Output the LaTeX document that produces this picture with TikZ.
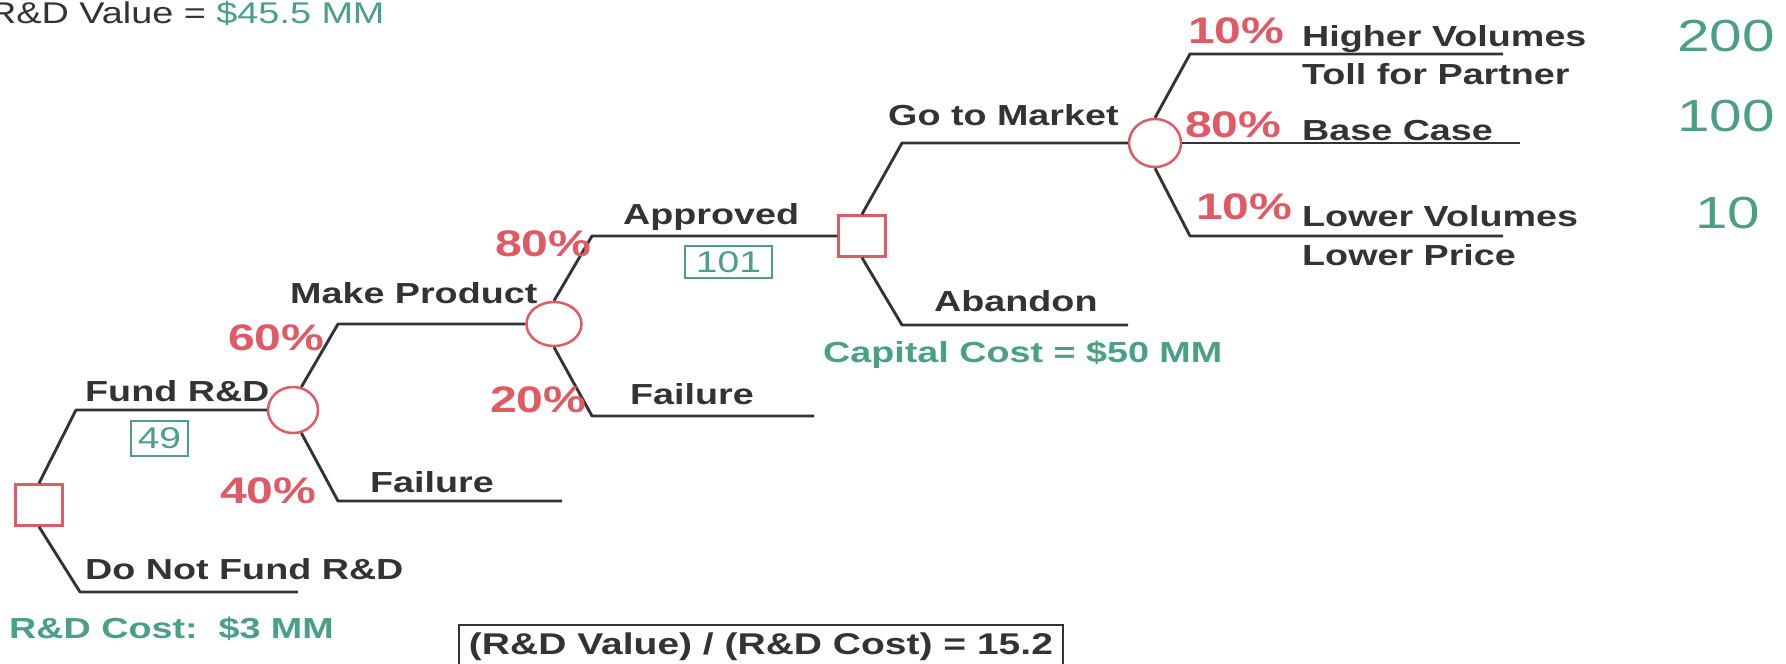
\documentclass[tikz,border=0pt]{standalone}
\usepackage{fontspec}
\setmainfont{Liberation Sans}
\usetikzlibrary{shapes.geometric}
\definecolor{ink}{HTML}{333333}
\definecolor{tred}{HTML}{E05A66}
\definecolor{tgreen}{HTML}{4AA086}
\newcommand{\hs}[1]{\scalebox{1.3}[1]{#1}}
\begin{document}
\begin{tikzpicture}[x=1pt,y=-1pt,
  lbl/.style={anchor=base west, inner sep=0pt, text=ink, font=\fontsize{29}{34}\selectfont\bfseries},
  pct/.style={anchor=base west, inner sep=0pt, text=tred, font=\fontsize{37}{42}\selectfont\bfseries},
  val/.style={anchor=base west, inner sep=0pt, text=tgreen, font=\fontsize{45}{50}\selectfont},
  note/.style={anchor=base west, inner sep=0pt, text=tgreen, font=\fontsize{29}{34}\selectfont\bfseries},
  decision/.style={draw=tred, line width=2.5pt, rectangle, minimum width=47pt, minimum height=41pt, inner sep=0pt},
  chance/.style={draw=tred, line width=2.5pt, ellipse, inner sep=0pt, minimum width=52pt, minimum height=46pt},
  branch/.style={draw=ink, line width=2.9pt, line join=round},
  valbox/.style={draw=tgreen, line width=2pt, text=tgreen, font=\fontsize{30}{34}\selectfont, inner sep=0pt}
]
\useasboundingbox (0,0) rectangle (1786,664);
\clip (0,0) rectangle (1786,664);

% header
\node[anchor=base west, inner sep=0pt, font=\fontsize{30}{34}\selectfont] (hdr) at (-11,23)
  {\scalebox{1.26}[1]{\textcolor{ink}{R\&D Value =} \textcolor{tgreen}{\$45.5 MM}}};

% decision / chance nodes
\node[decision] (d1) at (39,505) {};
\node[chance, minimum width=50pt, minimum height=46pt] (c1) at (293,410) {};
\node[chance, minimum width=55pt, minimum height=44pt] (c2) at (554,324) {};
\node[decision] (d2) at (862,236) {};
\node[chance, minimum width=52pt, minimum height=48pt] (c3) at (1155,143) {};

% corner / end coordinates
\coordinate (a1) at (76,410);
\coordinate (a2) at (80,592);  \coordinate (e2) at (298,592);
\coordinate (b1) at (338,324);
\coordinate (b2) at (338,501); \coordinate (e3) at (562,501);
\coordinate (g1) at (592,236);
\coordinate (g2) at (592,416); \coordinate (e4) at (814,416);
\coordinate (h1) at (902,143);
\coordinate (h2) at (902,325); \coordinate (e5) at (1128,325);
\coordinate (k1) at (1190,54);  \coordinate (e6) at (1503,54);
\coordinate (e7) at (1520,143);
\coordinate (k3) at (1190,236); \coordinate (e8) at (1503,236);

% branches
\draw[branch] (d1.north) -- (a1) -- (c1.west);
\draw[branch] (d1.south) -- (a2) -- (e2);
\draw[branch] (c1.70) -- (b1) -- (c2.west);
\draw[branch] (c1.290) -- (b2) -- (e3);
\draw[branch] (c2.north) -- (g1) -- (d2.west);
\draw[branch] (c2.south) -- (g2) -- (e4);
\draw[branch] (d2.north) -- (h1) -- (c3.west);
\draw[branch] (d2.south) -- (h2) -- (e5);
\draw[branch] (c3.north) -- (k1) -- (e6);
\draw[branch] (c3.east) -- (e7);
\draw[branch] (c3.south) -- (k3) -- (e8);

% labels
\node[lbl] (tfund) at (85,401) {\hs{Fund R\&D}};
\node[valbox, minimum width=57pt, minimum height=35pt] (v49) at (159.5,438.5) {\hs{49}};
\node[lbl] (tnofund) at (85,579) {\hs{Do Not Fund R\&D}};
\node[note] (tcost) at (9,638) {\hs{R\&D Cost:\ \ \$3 MM}};
\node[pct] (p60) at (228,350) {\hs{60\%}};
\node[lbl] (tmake) at (290,303) {\hs{Make Product}};
\node[pct] (p40) at (220,503) {\hs{40\%}};
\node[lbl] (tfail1) at (370,492) {\hs{Failure}};
\node[pct] (p80a) at (495,256) {\hs{80\%}};
\node[lbl] (tappr) at (623,224) {\hs{Approved}};
\node[valbox, minimum width=87pt, minimum height=32pt] (v101) at (728.5,262) {\hs{101}};
\node[pct] (p20) at (490,412) {\hs{20\%}};
\node[lbl] (tfail2) at (630,404) {\hs{Failure}};
\node[lbl] (tgo) at (888,125) {\hs{Go to Market}};
\node[lbl] (taband) at (934,311) {\hs{Abandon}};
\node[note] (tcap) at (823,362) {\hs{Capital Cost = \$50 MM}};
\node[pct] (p10a) at (1188,43) {\hs{10\%}};
\node[lbl] (thigh) at (1302,46) {\hs{Higher Volumes}};
\node[lbl] (ttoll) at (1302,84) {\hs{Toll for Partner}};
\node[pct] (p80b) at (1185,137) {\hs{80\%}};
\node[lbl] (tbase) at (1302,140) {\hs{Base Case}};
\node[pct] (p10b) at (1196,219) {\hs{10\%}};
\node[lbl] (tlow) at (1302,226) {\hs{Lower Volumes}};
\node[lbl] (tprice) at (1302,265) {\hs{Lower Price}};
\node[val] (v200) at (1677,51) {\hs{200}};
\node[val] (v100) at (1677,131) {\hs{100}};
\node[val] (v10) at (1695,228) {\hs{10}};

% ratio box
\node[draw=ink, line width=2pt, anchor=north west, minimum width=604pt, minimum height=44pt,
      inner sep=0pt, text=ink, font=\fontsize{30}{34}\selectfont\bfseries] (ratio) at (458,624)
  {\hs{(R\&D Value) / (R\&D Cost) = 15.2}};
\end{tikzpicture}
\end{document}
